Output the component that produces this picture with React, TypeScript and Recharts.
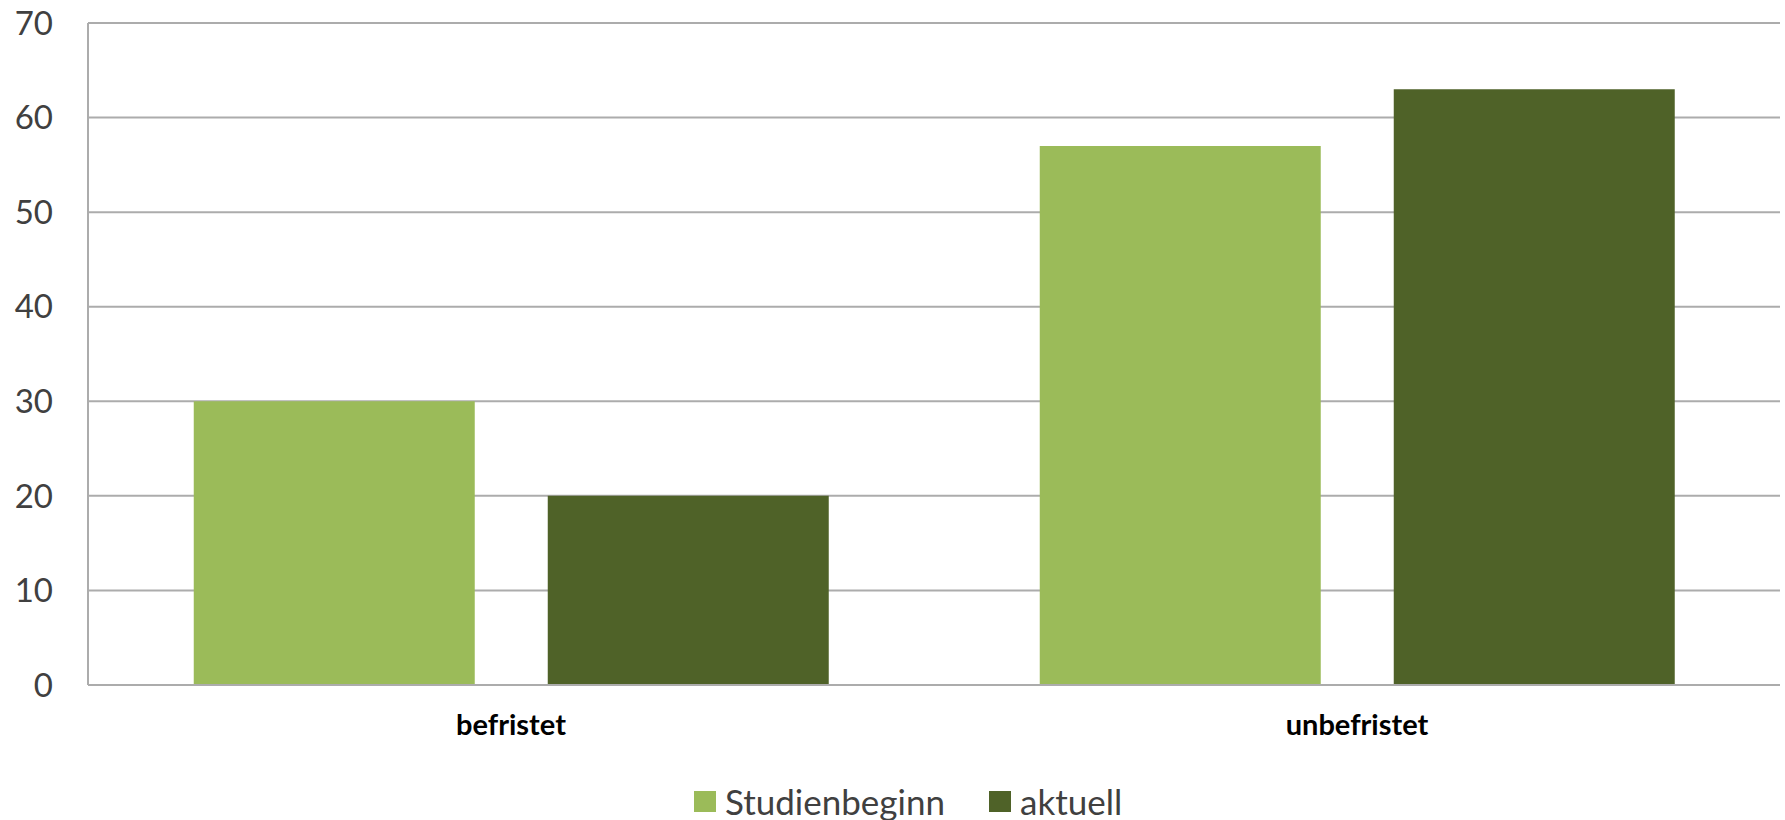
import { BarChart, Bar, XAxis, YAxis, CartesianGrid, Legend } from 'recharts';

const categories = ['befristet', 'unbefristet'];
const studienbeginn = [30, 57];
const aktuell = [20, 63];
const yTicks = [0, 10, 20, 30, 40, 50, 60, 70];

const data = categories.map((name, i) => ({
  name,
  studienbeginn: studienbeginn[i],
  aktuell: aktuell[i],
}));

const FONT = 'Lato, "Open Sans", sans-serif';
const GRID = '#ACACAC';

const LegendContent = ({ payload }: any) => (
  <div
    style={{
      display: 'flex',
      alignItems: 'center',
      height: 30,
      lineHeight: '30px',
      fontFamily: FONT,
      fontSize: 35,
      color: '#404040',
    }}
  >
    {(payload || []).map((p: any) => (
      <div key={p.value} style={{ display: 'flex', alignItems: 'center', marginRight: 44 }}>
        <span
          style={{ display: 'inline-block', width: 22, height: 21, background: p.color, marginRight: 9 }}
        />
        {p.value}
      </div>
    ))}
  </div>
);

export default function App() {
  return (
    <div style={{ position: 'absolute', left: 0, top: 0, width: 1785, height: 820, background: '#fff' }}>
      <BarChart
        width={1785}
        height={820}
        data={data}
        margin={{ top: 23, right: 5, left: 0, bottom: 45 }}
        barCategoryGap="12.5%"
        barGap={73}
        style={{ fontFamily: FONT }}
      >
        <CartesianGrid vertical={false} stroke={GRID} strokeWidth={2} />
        <XAxis
          dataKey="name"
          height={60}
          tickLine={false}
          tickSize={0}
          tickMargin={29}
          axisLine={{ stroke: GRID, strokeWidth: 2 }}
          tick={{ fontSize: 29, fontWeight: 700, fill: '#000', fontFamily: FONT }}
        />
        <YAxis
          width={88}
          domain={[0, 70]}
          ticks={yTicks}
          interval={0}
          tickLine={false}
          tickSize={0}
          tickMargin={35}
          axisLine={{ stroke: GRID, strokeWidth: 2 }}
          tick={{ fontSize: 33, fill: '#404040', fontFamily: FONT }}
        />
        <Legend
          verticalAlign="bottom"
          content={<LegendContent />}
          wrapperStyle={{ left: 694, top: 786, width: 600, height: 30 }}
        />
        <Bar dataKey="studienbeginn" name="Studienbeginn" fill="#9BBB59" isAnimationActive={false} />
        <Bar dataKey="aktuell" name="aktuell" fill="#4F6228" isAnimationActive={false} />
      </BarChart>
    </div>
  );
}
